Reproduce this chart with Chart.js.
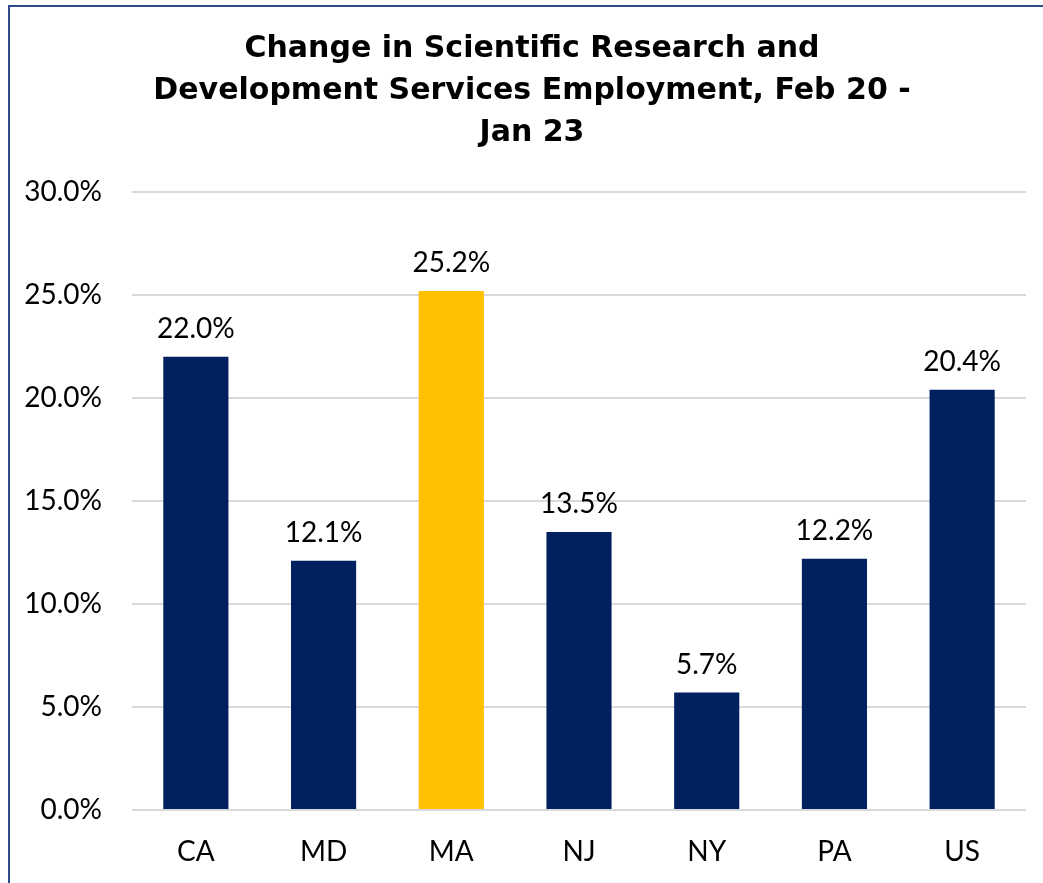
<!DOCTYPE html>
<html>
<head>
<meta charset="utf-8">
<script src="https://cdn.jsdelivr.net/npm/chart.js@4/dist/chart.umd.min.js"></script>
<style>
    body { margin: 0; background: #fff; overflow: hidden; }
    #frame {
        position: absolute; left: 8px; top: 5px;
        width: 1200px; height: 1000px;
        border-left: 2px solid #2e4a8b;
        border-top: 2px solid #2e4a8b;
    }
    #wrap { position: absolute; left: 0; top: 0; width: 1043px; height: 883px; }
</style>
</head>
<body>
<div id="frame"></div>
<div id="wrap"><canvas id="chart"></canvas></div>
<script>
// data
const states = ['CA', 'MD', 'MA', 'NJ', 'NY', 'PA', 'US'];
const changePct = [22.0, 12.1, 25.2, 13.5, 5.7, 12.2, 20.4];
const barColors = ['#002060', '#002060', '#ffc000', '#002060', '#002060', '#002060', '#002060'];
const yTicks = [0, 5, 10, 15, 20, 25, 30];

const fontFamily = 'Lato, "Open Sans", sans-serif';
const titleFamily = '"DejaVu Sans", Lato, sans-serif';

// etiquettes au-dessus des barres
const valueLabels = {
    id: 'valueLabels',
    afterLayout(chart) {
        // titre un peu décalé vers la droite
        if (chart.titleBlock) chart.titleBlock.left = 38;
    },
    afterDatasetsDraw(chart) {
        const ctx = chart.ctx;
        const meta = chart.getDatasetMeta(0);
        ctx.save();
        ctx.font = '28px ' + fontFamily;
        ctx.fillStyle = '#000';
        ctx.textAlign = 'center';
        ctx.textBaseline = 'alphabetic';
        meta.data.forEach(function (bar, i) {
            ctx.fillText(changePct[i].toFixed(1) + '%', bar.x, bar.y - 19);
        });
        ctx.restore();
    }
};

new Chart(document.getElementById('chart'), {
    type: 'bar',
    data: {
        labels: states,
        datasets: [{
            data: changePct,
            backgroundColor: barColors,
            barPercentage: 0.51,
            categoryPercentage: 1
        }]
    },
    options: {
        responsive: true,
        maintainAspectRatio: false,
        animation: false,
        layout: { padding: { left: 0, right: 17, top: 0, bottom: 0 } },
        plugins: {
            legend: { display: false },
            tooltip: { enabled: false },
            title: {
                display: true,
                text: ['Change in Scientific Research and', 'Development Services Employment, Feb 20 -', 'Jan 23'],
                color: '#000',
                font: { family: titleFamily, size: 30, weight: 'bold', lineHeight: 42 / 30 },
                padding: { top: 28, bottom: 38 }
            }
        },
        scales: {
            x: {
                grid: { display: false },
                border: { display: false },
                afterFit(scale) { scale.height = 73; },
                ticks: { color: '#000', font: { family: fontFamily, size: 28 }, padding: 17 }
            },
            y: {
                min: 0,
                max: 30,
                afterBuildTicks(scale) {
                    scale.ticks = yTicks.map(v => ({ value: v }));
                },
                afterFit(scale) { scale.width = 132; },
                grid: { color: '#d9d9d9', lineWidth: 2, drawTicks: false },
                border: { display: false },
                ticks: {
                    color: '#000',
                    padding: 30,
                    font: { family: fontFamily, size: 28 },
                    callback: v => v.toFixed(1) + '%'
                }
            }
        }
    },
    plugins: [valueLabels]
});
</script>
</body>
</html>
